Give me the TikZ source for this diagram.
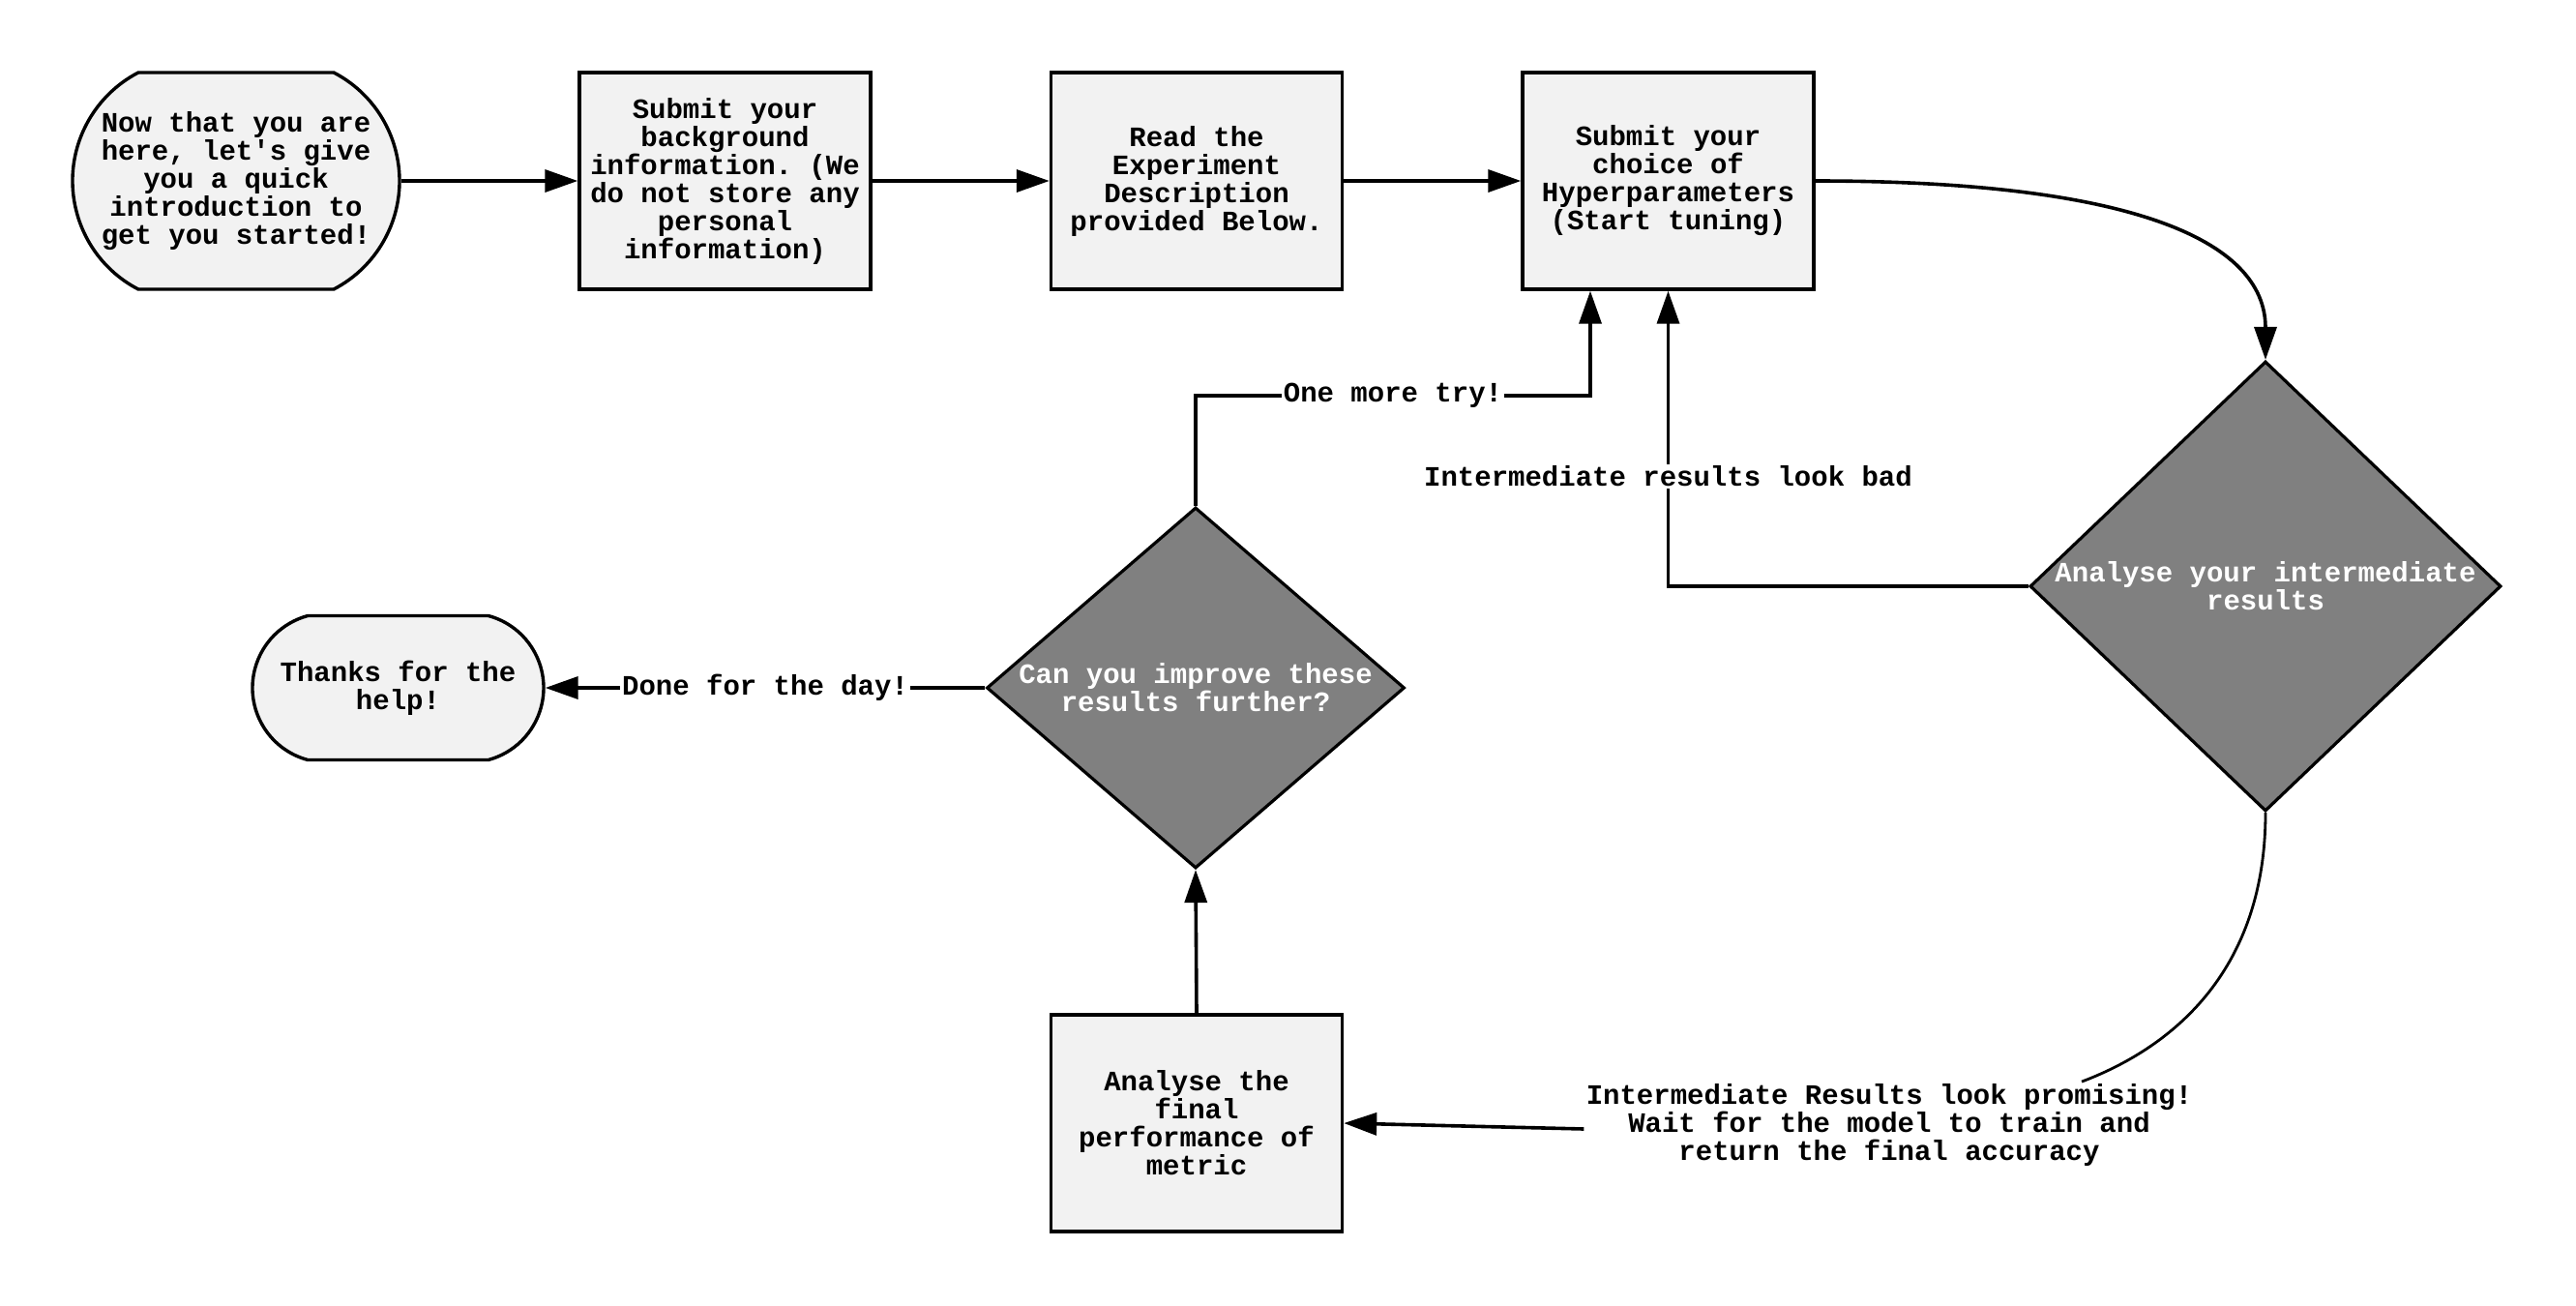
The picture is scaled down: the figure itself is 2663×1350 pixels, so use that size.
\documentclass[tikz,border=0pt]{standalone}
\usepackage{fontspec}
\setmonofont{Liberation Mono}
\usetikzlibrary{arrows.meta,shapes.geometric,shapes.misc,calc}
\definecolor{boxfill}{HTML}{F2F2F2}
\definecolor{decfill}{HTML}{808080}
\begin{document}
\begin{tikzpicture}[x=0.5pt,y=0.5pt,
  every node/.style={font=\ttfamily\bfseries\fontsize{14.5pt}{14.5pt}\selectfont, align=center},
  stepbox/.style={draw, line width=1.7pt, fill=boxfill, rectangle,
    minimum width=150.5pt, minimum height=112pt, inner sep=0pt},
  terminal/.style={draw, line width=1.7pt, fill=boxfill, rounded rectangle, inner sep=0pt},
  decision/.style={draw, line width=1.6pt, fill=decfill, diamond, inner sep=0pt},
  dectext/.style={text=white, inner sep=0pt},
  plaintext/.style={inner sep=0pt},
  edge/.style={line width=1.8pt, -{Triangle[length=17pt,width=11.5pt]}},
  flow/.style={line width=1.4pt},
  lbl/.style={fill=white, inner sep=1pt}]
\useasboundingbox (0,0) rectangle (2663,-1350);

% terminals
\node[terminal, minimum width=169pt, minimum height=112pt, rounded rectangle arc length=125] (start) at (244,-187) {};
\node[plaintext] (startT) at (start) {Now that you are\\here, let's give\\you a quick\\introduction to\\get you started!};
\node[terminal, minimum width=150.5pt, minimum height=74.5pt, rounded rectangle arc length=150] (thanks) at (411.5,-711) {};
\node[plaintext] (thanksT) at (thanks) {Thanks for the\\help!};

% process steps
\node[stepbox] (box1) at (749.5,-187) {Submit your\\background\\information. (We\\do not store any\\personal\\information)};
\node[stepbox] (box2) at (1237,-187) {Read the\\Experiment\\Description\\provided Below.};
\node[stepbox] (box3) at (1724.5,-187) {Submit your\\choice of\\Hyperparameters\\(Start tuning)};
\node[stepbox] (box4) at (1237,-1161) {Analyse the\\final\\performance of\\metric};

% decisions
\node[decision, minimum width=243.5pt, minimum height=232.5pt] (d1) at (2342,-606) {};
\node[dectext] (d1T) at (d1) {Analyse your intermediate\\results};
\node[decision, minimum width=216pt, minimum height=186.5pt] (d2) at (1236,-711) {};
\node[dectext] (d2T) at (d2) {Can you improve these\\results further?};

% free-standing note
\node[plaintext, inner sep=1pt] (promise) at (1953,-1163) {Intermediate Results look promising!\\Wait for the model to train and\\return the final accuracy};

% connectors
\draw[edge] (start.east) -- (box1.west);
\draw[edge] (box1.east) -- (box2.west);
\draw[edge] (box2.east) -- (box3.west);
\draw[edge] (box3.east) .. controls +(325,0) and +(0,124) .. (d1.north);
\draw[edge] (d1.west) -| node[lbl, pos=0.686] {Intermediate results look bad} (box3.south);
\draw[edge] (d2.north) -- ++(0,114) -| node[lbl, pos=0.25] {One more try!} ($(box3.south)+(-80.5,0)$);
\draw[edge] (d2.west) -- node[lbl] {Done for the day!} (thanks.east);
\draw[edge] (box4.north) -- (d2.south);
\draw[flow] (d1.south) .. controls +(0,-160) and +(98,37) .. ($(promise.north)+(199,0)$);
\draw[edge] ($(promise.west)+(0,-4)$) -- (box4.east);
\end{tikzpicture}
\end{document}
